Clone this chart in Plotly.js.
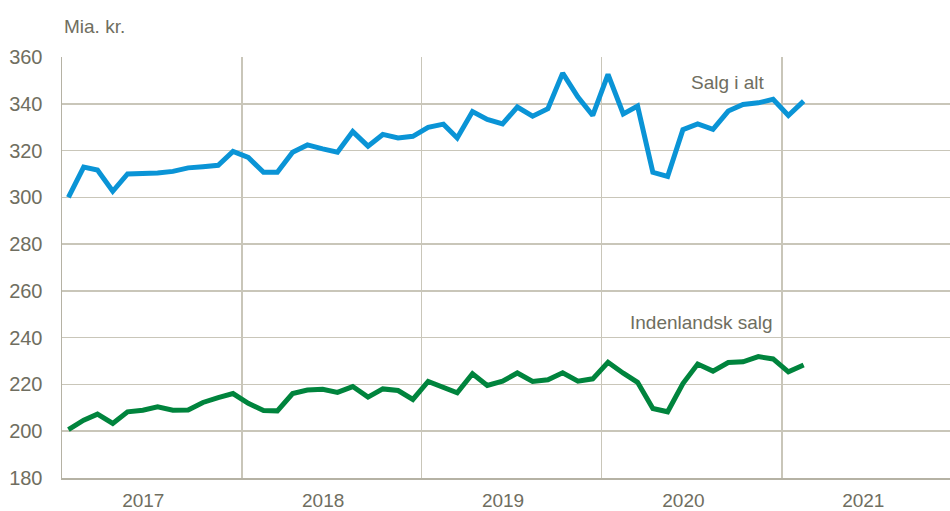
<!DOCTYPE html>
<html>
<head>
<meta charset="utf-8">
<script src="https://cdn.plot.ly/plotly-3.0.1.min.js"></script>
<style>
html,body{margin:0;padding:0;background:#fff;}
#chart{width:950px;height:511px;}
</style>
</head>
<body>
<div id="chart"></div>
<script>
const months = [
 '2017-01','2017-02','2017-03','2017-04','2017-05','2017-06','2017-07','2017-08','2017-09','2017-10','2017-11','2017-12',
 '2018-01','2018-02','2018-03','2018-04','2018-05','2018-06','2018-07','2018-08','2018-09','2018-10','2018-11','2018-12',
 '2019-01','2019-02','2019-03','2019-04','2019-05','2019-06','2019-07','2019-08','2019-09','2019-10','2019-11','2019-12',
 '2020-01','2020-02','2020-03','2020-04','2020-05','2020-06','2020-07','2020-08','2020-09','2020-10','2020-11','2020-12',
 '2021-01','2021-02'
];
const salgIAlt = [
 300.0,312.9,311.7,302.6,310.0,310.0,310.4,311.1,312.6,313.1,313.7,319.6,
 317.1,310.7,310.7,319.3,322.4,320.7,319.3,328.1,321.9,326.9,325.4,326.1,
 329.9,331.3,325.4,336.7,333.3,331.4,338.6,334.7,337.9,353.1,342.9,335.0,
 352.6,335.7,339.0,310.7,308.9,328.9,331.4,329.1,336.9,339.7,340.4,341.9,
 335.0,341.1
];
const indenlandskSalg = [
 200.7,204.7,207.3,203.3,208.3,209.0,210.4,209.0,209.1,212.3,214.4,216.1,
 211.9,208.9,208.7,216.1,217.6,217.9,216.6,219.1,214.6,218.1,217.4,213.6,
 221.3,218.9,216.4,224.6,219.6,221.4,224.9,221.3,222.0,225.0,221.4,222.4,
 229.5,224.8,220.9,209.7,208.3,220.4,228.7,225.7,229.4,229.7,231.9,230.9,
 225.4,228.3
];
const seriesNames = ['Salg i alt','Indenlandsk salg'];
const yearLabels = ['2017','2018','2019','2020','2021'];
const yAxisUnit = 'Mia. kr.';

const xDates = months.map(m => m + '-14');
const txtColor = '#6f6e60';
const font = '"Liberation Sans Narrow", "Arial Narrow", "Liberation Sans", Arial, sans-serif';

const traces = [
 {x: xDates, y: salgIAlt, type:'scatter', mode:'lines', name: seriesNames[0],
  line:{color:'#0a94d6', width:5, shape:'linear'}, hoverinfo:'skip'},
 {x: xDates, y: indenlandskSalg, type:'scatter', mode:'lines', name: seriesNames[1],
  line:{color:'#00843d', width:5, shape:'linear'}, hoverinfo:'skip'}
];

const layout = {
 width:950, height:511,
 margin:{l:62, r:0, t:57, b:33},
 paper_bgcolor:'#fff', plot_bgcolor:'#fff',
 showlegend:false,
 font:{family:font, size:20, color:txtColor},
 xaxis:{
  type:'date',
  range:['2017-01-01','2021-12-08'],
  tickmode:'array',
  tickvals: yearLabels.map(y => y + '-06-15'),
  ticktext: yearLabels,
  ticks:'', showgrid:false, zeroline:false,
  showline:true, linecolor:'#b5b2a4', linewidth:1.5,
  tickfont:{family:font, size:19, color:txtColor},
  minor:{dtick:'M12', tick0:'2017-01-01', showgrid:true, gridcolor:'#c9c6b9', gridwidth:1.5, ticks:''},
  ticklabelstandoff: 5,
  fixedrange:true
 },
 yaxis:{
  range:[180,360], dtick:20, tick0:180,
  showgrid:true, gridcolor:'#c9c6b9', gridwidth:1.5,
  zeroline:false, showline:true, linecolor:'#b5b2a4', linewidth:1.5,
  ticks:'', ticklabelstandoff: 14,
  tickfont:{family:font, size:20, color:txtColor},
  fixedrange:true
 },
 annotations:[
  {xref:'paper', yref:'paper', x:0, y:1, xanchor:'left', yanchor:'bottom', yshift:18,
   text:yAxisUnit, showarrow:false, font:{family:font, size:19, color:txtColor}},
  {xref:'x', yref:'y', x:'2020-09-13', y:349.2, xanchor:'center', yanchor:'middle',
   text:seriesNames[0], showarrow:false, font:{family:font, size:19, color:txtColor}},
  {xref:'x', yref:'y', x:'2020-07-22', y:246.7, xanchor:'center', yanchor:'middle',
   text:seriesNames[1], showarrow:false, font:{family:font, size:19, color:txtColor}}
 ]
};

Plotly.newPlot('chart', traces, layout, {displayModeBar:false, staticPlot:true});
</script>
</body>
</html>
